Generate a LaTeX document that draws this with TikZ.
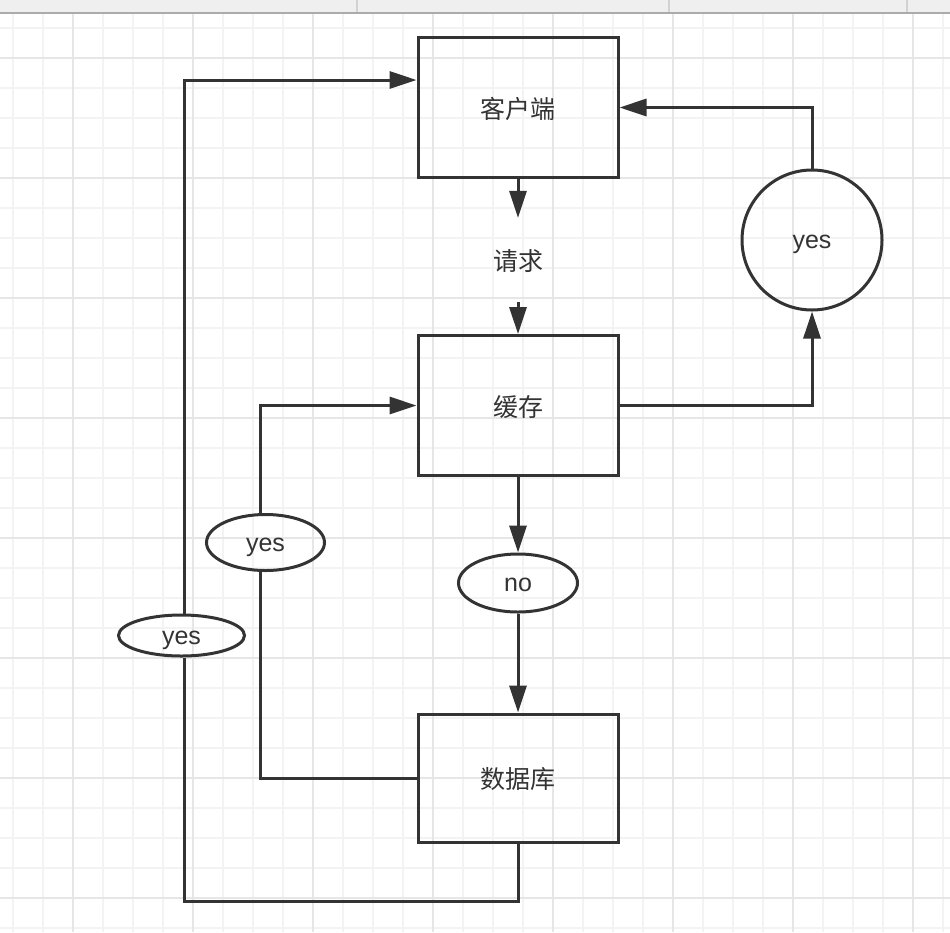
\documentclass[tikz,border=0pt]{standalone}
\usepackage{fontspec}
\setmainfont{Liberation Sans}
\newfontfamily\cjk{Noto Sans CJK SC}
\usetikzlibrary{arrows.meta,shapes.geometric,calc}
\definecolor{ink}{HTML}{333333}
\definecolor{gridminor}{HTML}{F3F3F3}
\definecolor{gridmajor}{HTML}{E6E6E6}
\definecolor{barfill}{HTML}{EFEFEF}
\definecolor{barline}{HTML}{ABABAB}
\definecolor{bardiv}{HTML}{D2D2D2}
\tikzset{
  boxnode/.style={draw=ink, line width=3pt, minimum width=200pt, inner sep=0pt, text=ink, font=\fontsize{25}{30}\selectfont\cjk, text height=23.75pt, text depth=2.5pt},
  ellnode/.style={draw=ink, line width=3pt, ellipse, inner sep=0pt, text=ink, font=\fontsize{25}{30}\selectfont, text height=22.5pt, text depth=5pt},
  plainline/.style={draw=ink, line width=3pt},
  arrline/.style={draw=ink, line width=3pt, -{Triangle[length=27pt,width=17pt]}},
  gminor/.style={draw=gridminor, line width=2pt},
  gmajor/.style={draw=gridmajor, line width=2pt}
}
\begin{document}
\begin{tikzpicture}[x=1pt,y=-1pt]
\useasboundingbox (0,0) rectangle (950,932);
\fill[white] (0,0) rectangle (950,932);
% grid
\foreach \k in {0,...,31} {\draw[gminor] (13+30*\k,13) -- (13+30*\k,932);}
\foreach \k in {0,...,30} {\draw[gminor] (0,28+30*\k) -- (950,28+30*\k);}
\foreach \k in {0,...,7} {\draw[gmajor] (73+120*\k,13) -- (73+120*\k,932);}
\foreach \k in {0,...,7} {\draw[gmajor] (0,58+120*\k) -- (950,58+120*\k);}
% top bar
\fill[barfill] (0,0) rectangle (950,11.5);
\draw[barline, line width=2pt] (0,12.5) -- (950,12.5);
\foreach \x in {357,669,907} {\draw[bardiv, line width=1.5pt] (\x,0) -- (\x,11.5);}
% nodes
\node[boxnode, minimum height=140pt] (client) at (518,107.5) {客户端};
\node[text=ink, font=\fontsize{25}{30}\selectfont\cjk, minimum height=84pt, inner sep=0pt, text height=23.75pt, text depth=2.5pt] (req) at (518,260) {请求};
\node[boxnode, minimum height=140pt] (cache) at (518,405.5) {缓存};
\node[boxnode, minimum height=128pt] (db) at (518,778) {数据库};
\node[ellnode, minimum width=119pt, minimum height=58pt] (no) at (518,583) {no};
\node[ellnode, minimum width=118pt, minimum height=56pt] (yesA) at (265.5,542.5) {yes};
\node[ellnode, minimum width=126pt, minimum height=41pt] (yesB) at (181.5,635.5) {yes};
\node[ellnode, circle, minimum size=140pt] (yesC) at (812,240) {yes};
\coordinate (xa) at (260,0);
\coordinate (bl) at (184,901);
% connectors
\draw[arrline] (client.south) -- (req.north);
\draw[arrline] (req.south) -- (cache.north);
\draw[arrline] (cache.east) -| (yesC.south);
\draw[arrline] (yesC.north) |- (client.east);
\draw[arrline] (cache.south) -- (no.north);
\draw[arrline] (no.south) -- (db.north);
\draw[plainline] (db.west) -| (yesA.south -| xa);
\draw[arrline] (yesA.north -| xa) |- (cache.west);
\draw[plainline] (db.south) |- (bl) -- (yesB.south -| bl);
\draw[arrline] (yesB.north -| bl) |- ([yshift=27.5pt]client.west);
\end{tikzpicture}
\end{document}
